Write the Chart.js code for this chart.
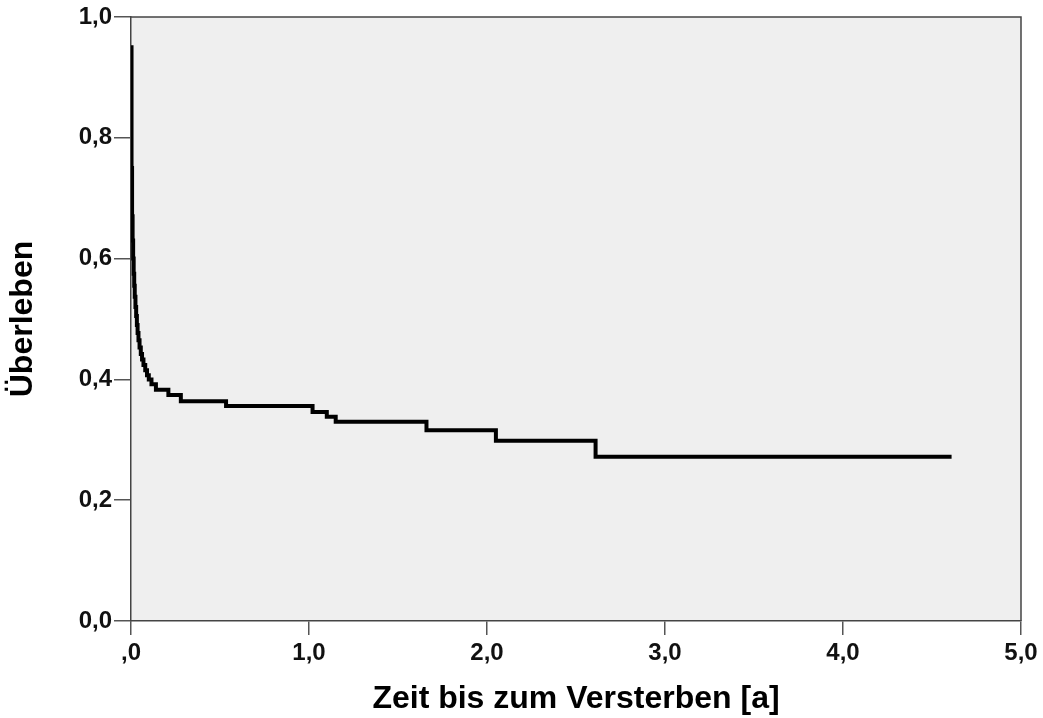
<!DOCTYPE html>
<html>
<head>
<meta charset="utf-8">
<script src="https://cdn.jsdelivr.net/npm/chart.js@4"></script>
<style>
  html, body { margin: 0; padding: 0; background: #fff; }
  #wrap { width: 1043px; height: 718px; }
</style>
</head>
<body>
<div id="wrap"><canvas id="km"></canvas></div>
<script>
// Kaplan-Meier Daten (Zeit in Jahren, Überlebensanteil)
const zeiten = [0, 0.003, 0.006, 0.009, 0.012, 0.015, 0.018, 0.021, 0.025, 0.029, 0.033, 0.037, 0.042, 0.048, 0.055, 0.062, 0.07, 0.08, 0.09, 0.1, 0.115, 0.14, 0.21, 0.28, 0.534, 1.02, 1.10, 1.15, 1.66, 2.05, 2.61, 4.61];
const ueberleben = [0.95, 0.75, 0.67, 0.63, 0.60, 0.575, 0.555, 0.537, 0.52, 0.505, 0.49, 0.477, 0.465, 0.453, 0.442, 0.433, 0.424, 0.415, 0.407, 0.40, 0.392, 0.383, 0.374, 0.364, 0.356, 0.346, 0.338, 0.33, 0.316, 0.2985, 0.272, 0.272];

const xTickLabels = [',0', '1,0', '2,0', '3,0', '4,0', '5,0'];
const yTickLabels = ['0,0', '0,2', '0,4', '0,6', '0,8', '1,0'];

const xTitel = 'Zeit bis zum Versterben [a]';
const yTitel = 'Überleben';

// Hintergrund und Rahmen der Zeichenfläche
const plotBox = {
    id: 'plotBox',
    beforeDraw(chart) {
        const { ctx, chartArea: a } = chart;
        ctx.save();
        ctx.fillStyle = '#efefef';
        ctx.fillRect(a.left, a.top, a.right - a.left, a.bottom - a.top);
        ctx.restore();
    },
    afterDraw(chart) {
        const { ctx, chartArea: a } = chart;
        ctx.save();
        ctx.strokeStyle = '#444';
        ctx.lineWidth = 1.5;
        ctx.beginPath();
        ctx.moveTo(a.left, a.top);
        ctx.lineTo(a.right, a.top);
        ctx.lineTo(a.right, a.bottom);
        ctx.stroke();
        ctx.restore();
    }
};

const tickFont = { family: 'Liberation Sans, Arial, sans-serif', size: 24, weight: 'bold' };
const titleFont = { family: 'Liberation Sans, Arial, sans-serif', size: 32, weight: 'bold' };

new Chart(document.getElementById('km'), {
    type: 'line',
    data: {
        datasets: [{
            data: zeiten.map((t, i) => ({ x: t, y: ueberleben[i] })),
            borderColor: '#000',
            borderWidth: 4,
            stepped: 'before',
            pointRadius: 0,
            fill: false
        }]
    },
    options: {
        responsive: true,
        maintainAspectRatio: false,
        animation: false,
        layout: { padding: { left: 4, top: 17, right: 22, bottom: 0 } },
        plugins: { legend: { display: false }, tooltip: { enabled: false } },
        scales: {
            x: {
                type: 'linear',
                min: 0,
                max: 5,
                afterFit(scale) { scale.height = 97; },
                ticks: {
                    stepSize: 1,
                    color: '#111',
                    font: tickFont,
                    padding: 4,
                    maxRotation: 0,
                    callback: (v, i) => xTickLabels[i]
                },
                grid: { drawOnChartArea: false, drawTicks: true, tickLength: 14, color: '#555', lineWidth: 1.5 },
                border: { display: true, color: '#444', width: 1.5 },
                title: { display: true, text: xTitel, color: '#000', font: titleFont, padding: 0 }
            },
            y: {
                min: 0,
                max: 1,
                afterFit(scale) { scale.width = 127; },
                ticks: {
                    stepSize: 0.2,
                    color: '#111',
                    font: tickFont,
                    padding: 2,
                    callback: (v, i) => yTickLabels[i]
                },
                grid: { drawOnChartArea: false, drawTicks: true, tickLength: 17, color: '#555', lineWidth: 1.5 },
                border: { display: true, color: '#444', width: 1.5 },
                title: { display: true, text: yTitel, color: '#000', font: titleFont, padding: 0 }
            }
        }
    },
    plugins: [plotBox]
});
</script>
</body>
</html>
